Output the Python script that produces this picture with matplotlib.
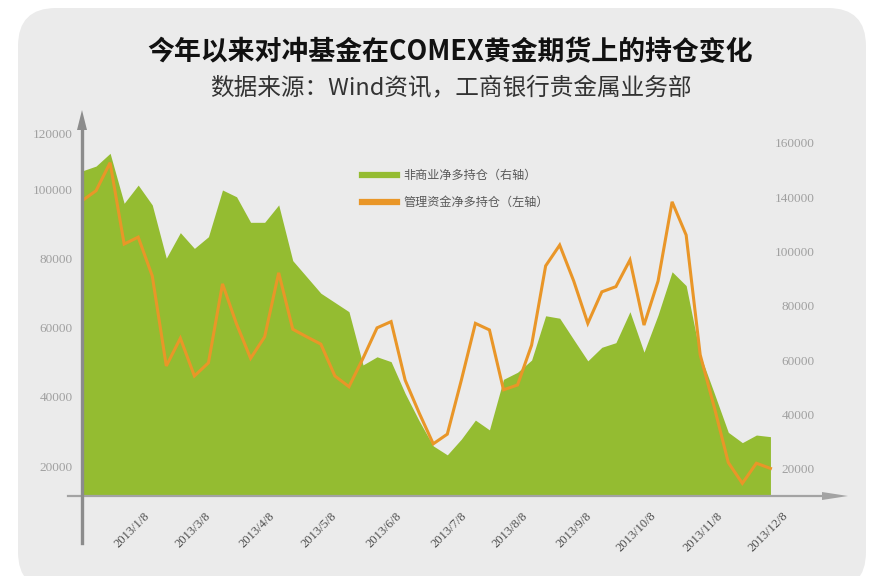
import matplotlib

matplotlib.use("Agg")
import matplotlib.pyplot as plt
from matplotlib.lines import Line2D
from matplotlib.patches import FancyBboxPatch, Polygon
from matplotlib.transforms import IdentityTransform

plt.rcParams["font.family"] = ["Noto Sans CJK SC", "DejaVu Sans"]

# weekly observations, 2013
weeks = list(range(50))
# 非商业净多持仓 (right axis)
noncomm = [129700, 131500, 136200, 117800, 124500, 117200, 97600, 107000, 101200, 105500,
           122700, 120200, 110800, 110800, 117200, 96700, 90700, 84700, 81300, 77900,
           58300, 61300, 59500, 47800, 37700, 28500, 25200, 31000, 38000, 34400,
           53000, 55600, 60100, 76400, 75500, 67600, 59800, 64800, 66500, 77900,
           63000, 76700, 92600, 87500, 62000, 47900, 33500, 29700, 32500, 31900]
# 管理资金净多持仓 (left axis)
managed = [96600, 99500, 107600, 84100, 86100, 74900, 48900, 56900, 46000, 49800,
           72600, 61000, 51100, 57300, 75800, 59500, 57300, 55200, 46000, 42900,
           51100, 59900, 61700, 44800, 35300, 26400, 29200, 44800, 61200, 59300,
           42000, 43400, 54900, 77800, 83800, 73400, 61200, 70300, 71800, 79500,
           60700, 73400, 96300, 86700, 52100, 37000, 21000, 15000, 20800, 19300]

x_ticks = [4.39, 8.73, 13.29, 17.7, 22.33, 26.95, 31.29, 35.85, 40.41, 45.18, 49.8]
x_labels = ["2013/1/8", "2013/3/8", "2013/4/8", "2013/5/8", "2013/6/8", "2013/7/8",
            "2013/8/8", "2013/9/8", "2013/10/8", "2013/11/8", "2013/12/8"]
left_ticks = [20000, 40000, 60000, 80000, 100000, 116170]
left_labels = ["20000", "40000", "60000", "80000", "100000", "120000"]
right_ticks = [20000, 40000, 60000, 80000, 100000, 120000, 140000]
right_labels = ["20000", "40000", "60000", "80000", "100000", "140000", "160000"]

GREEN = "#94bc31"
ORANGE = "#e99628"
W, H = 878, 576

fig = plt.figure(figsize=(W / 100, H / 100), dpi=100)
fig.patch.set_facecolor("white")


def px(x, y):
    return (x, H - y)


panel = FancyBboxPatch(px(18, 590), 848, 582, boxstyle="round,pad=0,rounding_size=38",
                       transform=IdentityTransform(), facecolor="#ebebeb", edgecolor="none",
                       zorder=0)
fig.add_artist(panel)

ax = fig.add_axes([82 / W, 80 / H, 766 / W, 383 / H])
ax2 = ax.twinx()
ax.patch.set_visible(False)
ax2.patch.set_visible(False)

# green area, right scale
ax.fill_between(weeks, noncomm, 0, color=GREEN, lw=0)
ax.set_xlim(0, 766 / 14.05)
ax.set_ylim(10061, 151040)
ax.yaxis.tick_right()
ax.set_yticks(right_ticks)
ax.set_yticklabels(right_labels, family="Liberation Serif", ha="right")
ax.tick_params(axis="y", length=0, pad=-24, labelsize=9.5, labelcolor="#a0a0a0")
ax.set_xticks(x_ticks)
ax.set_xticklabels(x_labels, rotation=45, ha="right", va="top", rotation_mode="anchor",
                   family="Liberation Serif", fontsize=9, color="#4d4d4d")
ax.tick_params(axis="x", length=0, pad=10)
for s in ax.spines.values():
    s.set_visible(False)

# orange line, left scale
ax2.plot(weeks, managed, color=ORANGE, lw=2.2, solid_joinstyle="miter")
ax2.set_ylim(11336, 121950)
ax2.yaxis.tick_left()
ax2.set_yticks(left_ticks)
ax2.set_yticklabels(left_labels, family="Liberation Serif")
ax2.tick_params(axis="y", length=0, pad=6.5, labelsize=9.5, labelcolor="#a0a0a0")
for s in ax2.spines.values():
    s.set_visible(False)

# axis lines with arrows
fig.add_artist(Line2D([68, 824], [H - 496, H - 496], transform=IdentityTransform(),
                      color="#a3a3a3", lw=1.6))
fig.add_artist(Polygon([px(848, 496), px(822, 492), px(822, 500)], closed=True,
                       transform=IdentityTransform(), color="#a3a3a3", lw=0))
fig.add_artist(Line2D([82, 82], [H - 543, H - 126], transform=IdentityTransform(),
                      color="#8c8c8c", lw=2.4))
fig.add_artist(Polygon([px(82, 110), px(77, 130), px(87, 130)], closed=True,
                       transform=IdentityTransform(), color="#8c8c8c", lw=0))

handles = [Line2D([], [], color=GREEN, lw=4.5), Line2D([], [], color=ORANGE, lw=4.5)]
leg = fig.legend(handles, ["非商业净多持仓（右轴）", "管理资金净多持仓（左轴）"],
                 loc="upper left", bbox_to_anchor=(362 / W, 1 - 169 / H), frameon=False,
                 fontsize=8.7, labelcolor="#595959", handlelength=2.9, handletextpad=0.55,
                 labelspacing=1.15, borderpad=0, borderaxespad=0)

fig.text(450 / W, 1 - 52 / H, "今年以来对冲基金在COMEX黄金期货上的持仓变化", ha="center",
         va="center", fontsize=19.4, fontweight="bold", color="#111111")
fig.text(451 / W, 1 - 88 / H, "数据来源：Wind资讯，工商银行贵金属业务部", ha="center",
         va="center", fontsize=17, color="#333333")

fig.savefig("out.png", dpi=100)
